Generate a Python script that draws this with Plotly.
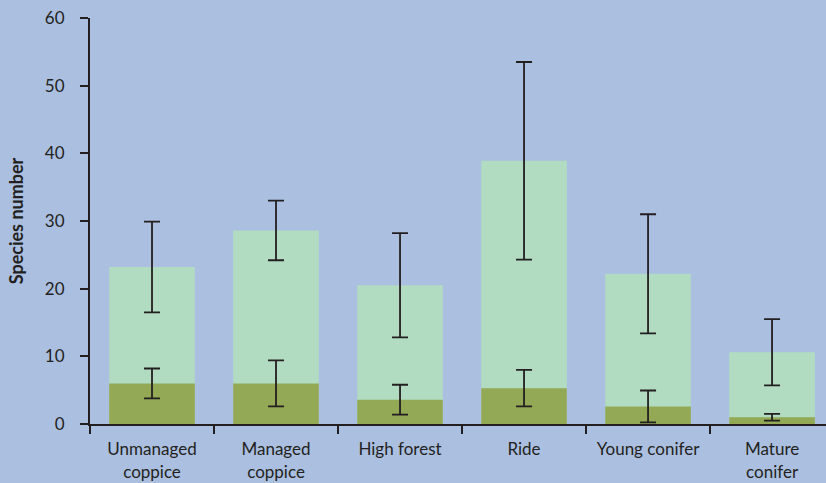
import plotly.graph_objects as go

# Habitat categories (two-line labels)
categories = ["Unmanaged<br>coppice", "Managed<br>coppice", "High forest",
              "Ride", "Young conifer", "Mature<br>conifer"]

# Total species number per habitat, with error
total_mean = [23.2, 28.6, 20.5, 38.9, 22.2, 10.6]
total_err = [6.7, 4.4, 7.7, 14.6, 8.8, 4.9]

# Subset species number per habitat, with error
subset_mean = [6.0, 6.0, 3.6, 5.3, 2.6, 1.0]
subset_err = [2.2, 3.4, 2.2, 2.7, 2.35, 0.5]

y_ticks = [0, 10, 20, 30, 40, 50, 60]

BG = "#abbfe0"
LIGHT = "#b1dcc1"
DARK = "#93a955"
INK = "#231f20"
FONT = "Lato"

err_style = dict(type="data", visible=True, color=INK, thickness=1.8, width=8)

fig = go.Figure()
fig.add_trace(go.Bar(
    x=categories, y=total_mean, marker=dict(color=LIGHT, line=dict(width=0)),
    width=0.69, error_y=dict(array=total_err, **err_style), showlegend=False,
))
fig.add_trace(go.Bar(
    x=categories, y=subset_mean, marker=dict(color=DARK, line=dict(width=0)),
    width=0.69, error_y=dict(array=subset_err, **err_style), showlegend=False,
))

fig.update_layout(
    width=826, height=483,
    margin=dict(l=90, r=0, t=18, b=59),
    paper_bgcolor=BG, plot_bgcolor=BG,
    barmode="overlay",
    font=dict(family=FONT, size=16, color=INK),
    xaxis=dict(
        type="category", range=[-0.5, 5.435],
        showline=True, linecolor=INK, linewidth=2,
        ticks="outside", tickson="boundaries", ticklen=8, tickwidth=1.8,
        tickcolor=INK, showgrid=False, zeroline=False,
        tickfont=dict(family=FONT, size=17, color=INK),
        ticklabelstandoff=9,
    ),
    yaxis=dict(
        range=[0, 60], tickvals=y_ticks,
        showline=True, linecolor=INK, linewidth=2,
        ticks="outside", ticklen=8, tickwidth=1.8, tickcolor=INK,
        showgrid=False, zeroline=False,
        tickfont=dict(family=FONT, size=17, color=INK),
        ticklabelstandoff=12,
        title=dict(text="<b>Species number</b>", standoff=17,
                   font=dict(family=FONT, size=18, color=INK)),
    ),
)

fig.write_html("out.html")
